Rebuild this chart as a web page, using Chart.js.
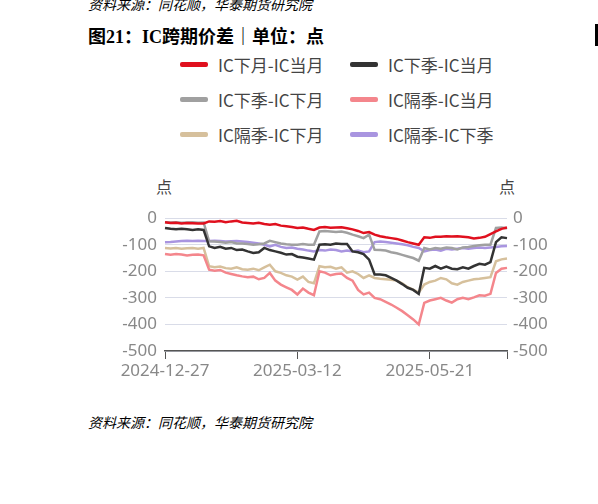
<!DOCTYPE html>
<html>
<head>
<meta charset="utf-8">
<script src="https://cdn.jsdelivr.net/npm/chart.js@4"></script>
<style>
body{margin:0;width:598px;height:504px;background:#fff;position:relative;overflow:hidden;font-family:"Noto Sans CJK SC","Noto Sans",sans-serif;}
.src{position:absolute;left:88px;font-size:14px;font-style:italic;color:#000;}
#title{position:absolute;left:88px;top:22px;font-size:18px;font-weight:bold;color:#000;font-family:"Liberation Serif","Noto Sans CJK SC",serif;}
#legend{position:absolute;left:180px;top:52px;display:grid;grid-template-columns:170px 170px;row-gap:10px;font-size:17px;color:#444;}
#legend div{display:flex;align-items:center;height:25px;}
#legend span{display:inline-block;width:28px;height:5px;border-radius:2px;margin-right:10px;}
.unit{position:absolute;top:174px;font-size:16px;color:#444;}
#wrap{position:absolute;left:100px;top:200px;width:460px;height:180px;}
</style>
</head>
<body>
<div class="src" style="top:-6px">资料来源：同花顺，华泰期货研究院</div>
<div id="title">图21：IC跨期价差｜单位：点</div>
<div id="legend"></div>
<div class="unit" style="left:156px">点</div>
<div class="unit" style="left:499px">点</div>
<div id="wrap"><canvas id="c"></canvas></div>
<div class="src" style="top:412px">资料来源：同花顺，华泰期货研究院</div>
<div style="position:absolute;left:595px;top:24px;width:3px;height:22px;background:#000"></div>
<script>
// 日期刻度（63个点，每隔24个显示一个）
const tickDates = ['2024-12-27', '2025-03-12', '2025-05-21'];
const tickIdx = [0, 24, 48, 62];
const labels = [];
for (let i = 0; i < 63; i++) labels.push('');
labels[0] = tickDates[0]; labels[24] = tickDates[1]; labels[48] = tickDates[2];

const names = ['IC下月-IC当月', 'IC下季-IC当月', 'IC下季-IC下月', 'IC隔季-IC当月', 'IC隔季-IC下月', 'IC隔季-IC下季'];
const colors = ['#e0101e', '#333333', '#a0a0a0', '#f4868c', '#d6c09c', '#a995e0'];

const s1 = [-15,-18,-17,-20,-18,-19,-20,-20, -12, -13,-11,-15,-12,-10,-16, -18,-20,-17,-22,-25,-22,
  -28,-30,-33,-37,-35,-40,-44, -35,-33,-36,-35,-34,-38, -42,-48,-56,-52,-62,
  -68,-72,-75,-78,-84,-90,-95,-100, -72,-74,-70,-70,-68,-69,-68,-70,-72, -76,-74,-70,-60,-50,-40,-35];
const s2 = [-37,-40,-42,-40,-42,-44,-42,-44, -106,-112,-108,-115,-112,-120,-118, -125,-131,-128,-112,-120,-125,
  -130,-137,-135,-145,-148,-152,-156, -100,-98,-100,-95,-97,-97, -125,-128,-135,-156,-212,
  -212,-215,-225,-235,-248,-262,-270,-285, -187,-190,-180,-190,-182,-190,-192,-185,-190, -180,-172,-175,-165,-90,-72,-75];
const s3 = [-15,-16,-15,-17,-16,-15,-17,-16, -87,-88,-90,-92,-90,-95,-95, -97,-100,-98,-95,-85,-90,
  -95,-98,-100,-100,-97,-100,-100, -50,-48,-50,-52,-50,-55, -62,-68,-75,-62,-119,
  -120,-122,-128,-132,-138,-144,-150,-160, -112,-118,-112,-115,-110,-112,-118,-110,-108, -105,-102,-100,-100,-37,-35,-38];
const s4 = [-135,-138,-135,-137,-140,-138,-137,-140, -194,-198,-195,-205,-210,-215,-219, -222,-220,-230,-225,-206,-235,
  -250,-260,-270,-287,-265,-280,-290, -200,-205,-215,-210,-208,-225, -235,-270,-287,-280,-300,
  -305,-315,-325,-337,-350,-365,-381,-400, -319,-310,-305,-300,-310,-318,-305,-300,-305, -298,-290,-292,-285,-206,-190,-187];
const s5 = [-112,-114,-112,-115,-113,-112,-115,-112, -181,-185,-182,-188,-190,-185,-192, -194,-190,-196,-185,-175,-200,
  -206,-215,-220,-231,-220,-240,-245, -181,-185,-183,-190,-185,-205, -200,-210,-225,-215,-225,
  -228,-230,-232,-235,-245,-260,-269,-280, -250,-240,-235,-225,-230,-245,-250,-240,-235, -230,-228,-225,-222,-162,-155,-152];
const s6 = [-91,-90,-88,-86,-85,-86,-85,-86, -86,-85,-86,-88,-87,-86,-88, -90,-92,-95,-100,-106,-100,
  -108,-112,-110,-115,-118,-122,-125, -120,-122,-118,-120,-125,-122, -125,-122,-128,-125,-90,
  -88,-90,-92,-95,-98,-102,-108,-112, -125,-120,-118,-122,-115,-118,-115,-112,-115, -112,-110,-112,-110,-108,-106,-105];
const series = [s1, s2, s3, s4, s5, s6];

// 图例
const lg = document.getElementById('legend');
names.forEach((n, i) => {
  const d = document.createElement('div');
  d.innerHTML = '<span style="background:' + colors[i] + '"></span>' + n;
  lg.appendChild(d);
});

const datasets = series.map((s, i) => ({
  label: names[i], data: s, borderColor: colors[i], borderWidth: 2.5,
  pointRadius: 0, tension: 0, yAxisID: 'y'
}));
// 右轴用的隐藏数据
datasets.push({label: 'r', data: [], yAxisID: 'y2'});

const tickFont = {size: 17, family: 'Noto Sans, sans-serif'};
new Chart(document.getElementById('c'), {
  type: 'line',
  data: {labels: labels, datasets: datasets},
  options: {
    responsive: true, maintainAspectRatio: false, animation: false,
    layout: {padding: {top: 17, left: 0, right: 0, bottom: 0}},
    plugins: {legend: {display: false}, tooltip: {enabled: false}},
    scales: {
      x: {
        grid: {drawOnChartArea: false, tickLength: 8,
          color: ctx => tickIdx.includes(ctx.index) ? '#555' : 'rgba(0,0,0,0)'},
        border: {color: '#555', width: 1.5},
        ticks: {autoSkip: false, maxRotation: 0, color: '#888', font: tickFont, padding: 2,
          callback: (v, i) => labels[i]},
        afterFit: s => { s.height = 29; }
      },
      y: {
        min: -500, max: 0, ticks: {stepSize: 100, color: '#888', font: tickFont, padding: 8},
        grid: {color: '#d9dce8', drawTicks: false}, border: {display: false},
        afterFit: s => { s.width = 65; }
      },
      y2: {
        position: 'right', min: -500, max: 0,
        ticks: {stepSize: 100, color: '#888', font: tickFont, padding: 6},
        grid: {drawOnChartArea: false, drawTicks: false}, border: {display: false},
        afterFit: s => { s.width = 53; }
      }
    }
  }
});
</script>
</body>
</html>
